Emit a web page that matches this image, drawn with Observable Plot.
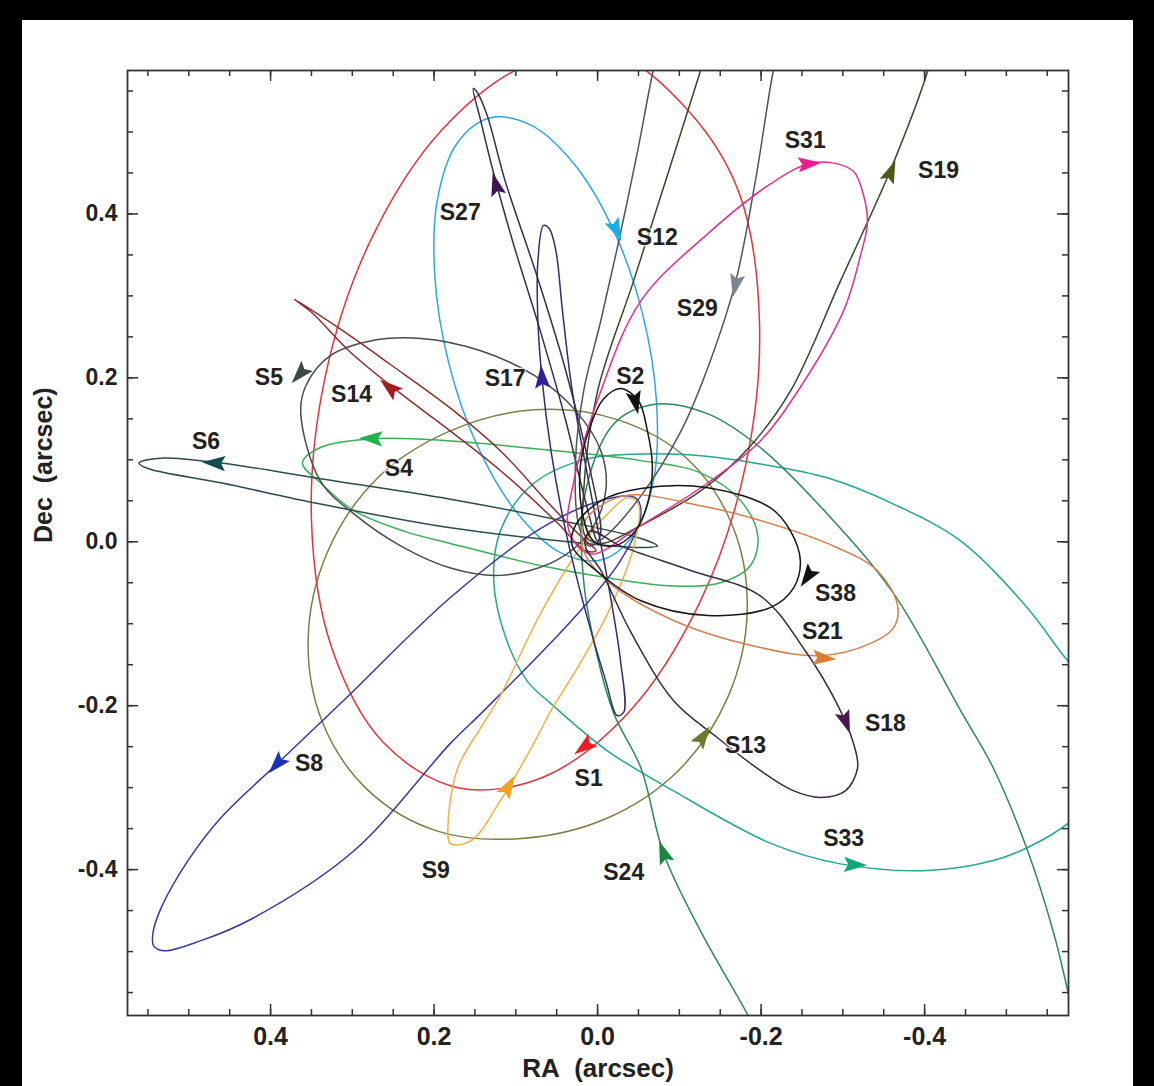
<!DOCTYPE html>
<html><head><meta charset="utf-8">
<script src="https://cdn.jsdelivr.net/npm/d3@7"></script>
<script src="https://cdn.jsdelivr.net/npm/@observablehq/plot@0.6"></script>
<style>
html,body{margin:0;padding:0;background:#000;width:1154px;height:1086px;overflow:hidden;}
#panel{position:absolute;left:22px;top:20px;width:1111px;height:1066px;background:#fff;}
#chart{position:absolute;left:0;top:0;}
</style></head><body>
<div id="panel"></div><div id="chart"></div>
<script>
// ---- orbit tracks [RA, Dec] in arcsec ----
const S1 = [[-0.020,0.595],[-0.111,0.526],[-0.173,0.426],[-0.198,0.269],[-0.181,0.093],[-0.125,-0.074],[-0.039,-0.207],[0.066,-0.287],[0.171,-0.300],[0.262,-0.245],[0.325,-0.130],[0.350,0.027],[0.333,0.202],[0.277,0.369],[0.190,0.503],[0.086,0.582]];
const S2 = [[-0.028,0.187],[-0.050,0.172],[-0.061,0.135],[-0.067,0.093],[-0.062,0.050],[-0.046,0.013],[-0.020,-0.005],[0.005,0.001],[0.018,0.032],[0.021,0.093],[0.009,0.141],[-0.007,0.174]];
const S4 = [[0.361,0.096],[0.339,0.115],[0.269,0.126],[0.180,0.123],[0.070,0.113],[-0.053,0.099],[-0.126,0.084],[-0.175,0.050],[-0.196,0.007],[-0.187,-0.029],[-0.150,-0.050],[-0.093,-0.054],[-0.012,-0.044],[0.070,-0.029],[0.180,-0.002],[0.237,0.013],[0.298,0.038],[0.339,0.072]];
const S5 = [[0.363,0.156],[0.357,0.190],[0.327,0.227],[0.278,0.245],[0.216,0.248],[0.143,0.233],[0.076,0.202],[0.027,0.160],[-0.004,0.111],[-0.010,0.062],[0.009,0.013],[0.051,-0.023],[0.119,-0.041],[0.180,-0.032],[0.241,-0.005],[0.298,0.034],[0.339,0.074]];
const S6 = [[0.561,0.096],[0.535,0.102],[0.461,0.096],[0.339,0.077],[0.180,0.052],[0.045,0.026],[-0.053,0.004],[-0.073,-0.005],[-0.053,-0.007],[0.045,0.001],[0.180,0.017],[0.339,0.046],[0.461,0.072],[0.549,0.089]];
const S8 = [[0.544,-0.478],[0.534,-0.447],[0.501,-0.389],[0.461,-0.337],[0.391,-0.270],[0.311,-0.194],[0.180,-0.068],[0.070,0.016],[-0.004,0.050],[-0.046,0.054],[-0.053,0.032],[-0.028,-0.023],[0.029,-0.093],[0.139,-0.206],[0.180,-0.246],[0.298,-0.377],[0.421,-0.459],[0.486,-0.487],[0.531,-0.499],[0.543,-0.493]];
const S9 = [[0.180,-0.368],[0.183,-0.346],[0.171,-0.276],[0.143,-0.227],[0.119,-0.188],[0.070,-0.088],[0.021,-0.007],[-0.012,0.034],[-0.037,0.054],[-0.050,0.046],[-0.044,-0.007],[-0.012,-0.088],[0.029,-0.161],[0.057,-0.206],[0.078,-0.246],[0.119,-0.316],[0.155,-0.365]];
const S12 = [[0.132,0.517],[0.081,0.508],[0.028,0.460],[-0.020,0.379],[-0.055,0.278],[-0.072,0.172],[-0.069,0.078],[-0.045,0.010],[-0.005,-0.022],[0.046,-0.013],[0.099,0.036],[0.147,0.117],[0.182,0.218],[0.199,0.323],[0.196,0.417],[0.172,0.486]];
const S13 = [[-0.110,0.101],[-0.166,0.017],[-0.183,-0.085],[-0.160,-0.188],[-0.099,-0.279],[-0.010,-0.338],[0.093,-0.362],[0.196,-0.353],[0.281,-0.303],[0.337,-0.219],[0.354,-0.118],[0.331,-0.014],[0.270,0.077],[0.181,0.135],[0.078,0.161],[-0.024,0.149]];
const S14 = [[0.371,0.296],[0.314,0.259],[0.253,0.216],[0.180,0.163],[0.119,0.111],[0.057,0.044],[0.021,0.007],[0.002,-0.011],[0.015,-0.011],[0.049,0.023],[0.119,0.087],[0.180,0.135],[0.241,0.181],[0.302,0.231],[0.350,0.280]];
const S17 = [[0.066,0.386],[0.073,0.343],[0.073,0.270],[0.068,0.199],[0.057,0.111],[0.039,0.013],[0.015,-0.084],[-0.010,-0.170],[-0.024,-0.212],[-0.032,-0.208],[-0.028,-0.145],[-0.010,-0.035],[0.011,0.074],[0.031,0.184],[0.043,0.282],[0.051,0.355],[0.059,0.382]];
const S18 = [[0.009,0.013],[-0.028,-0.005],[-0.114,-0.035],[-0.199,-0.066],[-0.254,-0.133],[-0.294,-0.200],[-0.313,-0.246],[-0.318,-0.276],[-0.303,-0.304],[-0.273,-0.312],[-0.240,-0.304],[-0.199,-0.279],[-0.144,-0.237],[-0.093,-0.194],[-0.040,-0.109],[-0.004,-0.035],[0.015,-0.005]];
const S19 = [[-0.413,0.611],[-0.404,0.575],[-0.358,0.453],[-0.297,0.318],[-0.236,0.184],[-0.187,0.117],[-0.126,0.062],[-0.053,0.020],[-0.004,-0.002],[0.015,0.007],[0.017,0.062],[0.000,0.184],[-0.044,0.318],[-0.086,0.449],[-0.126,0.575],[-0.138,0.611]];
const S21 = [[0.015,0.026],[-0.032,0.056],[-0.126,0.044],[-0.199,0.026],[-0.281,-0.002],[-0.342,-0.035],[-0.367,-0.078],[-0.362,-0.105],[-0.334,-0.124],[-0.273,-0.139],[-0.199,-0.129],[-0.093,-0.096],[-0.012,-0.048],[0.017,-0.011]];
const S24 = [[-0.199,-0.609],[-0.183,-0.576],[-0.126,-0.475],[-0.081,-0.381],[-0.053,-0.276],[-0.020,-0.210],[0.002,-0.133],[0.017,-0.048],[0.017,0.050],[-0.020,0.144],[-0.073,0.168],[-0.135,0.156],[-0.199,0.115],[-0.281,0.034],[-0.362,-0.063],[-0.444,-0.206],[-0.484,-0.276],[-0.526,-0.377],[-0.558,-0.478],[-0.575,-0.548],[-0.585,-0.597]];
const S27 = [[0.152,0.553],[0.143,0.514],[0.128,0.453],[0.104,0.367],[0.070,0.257],[0.039,0.148],[0.015,0.050],[0.000,0.001],[-0.004,0.013],[0.009,0.087],[0.039,0.209],[0.076,0.330],[0.113,0.440],[0.135,0.520],[0.147,0.548]];
const S29 = [[-0.224,0.611],[-0.215,0.575],[-0.193,0.440],[-0.169,0.318],[-0.138,0.221],[-0.102,0.135],[-0.053,0.056],[-0.010,0.007],[0.011,-0.005],[0.023,0.020],[0.027,0.099],[0.017,0.184],[-0.004,0.270],[-0.026,0.367],[-0.049,0.477],[-0.068,0.575],[-0.077,0.611]];
const S31 = [[0.029,0.074],[-0.004,0.184],[-0.053,0.294],[-0.135,0.376],[-0.212,0.437],[-0.257,0.461],[-0.289,0.462],[-0.313,0.452],[-0.325,0.424],[-0.330,0.389],[-0.322,0.351],[-0.301,0.282],[-0.245,0.184],[-0.199,0.123],[-0.135,0.072],[-0.053,0.020],[0.009,-0.015],[0.035,0.013]];
const S33 = [[-0.575,-0.145],[-0.526,-0.081],[-0.444,0.001],[-0.362,0.046],[-0.281,0.078],[-0.199,0.095],[-0.126,0.105],[-0.053,0.107],[0.021,0.099],[0.082,0.068],[0.119,0.013],[0.127,-0.048],[0.113,-0.115],[0.086,-0.170],[0.061,-0.194],[-0.012,-0.255],[-0.093,-0.304],[-0.212,-0.368],[-0.297,-0.393],[-0.404,-0.401],[-0.484,-0.389],[-0.526,-0.373],[-0.575,-0.344],[-0.615,-0.304],[-0.630,-0.243],[-0.613,-0.182]];
const S38 = [[0.027,0.020],[-0.004,0.050],[-0.053,0.065],[-0.135,0.066],[-0.212,0.041],[-0.236,0.013],[-0.248,-0.023],[-0.240,-0.056],[-0.212,-0.080],[-0.135,-0.090],[-0.053,-0.072],[0.002,-0.035],[0.031,-0.005]];

const orbits = [
  {name:"S13", pts:S13, closed:true}, {name:"S1", pts:S1, closed:true}, {name:"S12", pts:S12, closed:true},
  {name:"S33", pts:S33, closed:true}, {name:"S24", pts:S24, closed:false}, {name:"S4", pts:S4, closed:true},
  {name:"S5", pts:S5, closed:true}, {name:"S6", pts:S6, closed:true}, {name:"S8", pts:S8, closed:true},
  {name:"S9", pts:S9, closed:true}, {name:"S14", pts:S14, closed:true}, {name:"S17", pts:S17, closed:true},
  {name:"S27", pts:S27, closed:true}, {name:"S29", pts:S29, closed:false}, {name:"S19", pts:S19, closed:false},
  {name:"S31", pts:S31, closed:true}, {name:"S21", pts:S21, closed:true}, {name:"S18", pts:S18, closed:true},
  {name:"S38", pts:S38, closed:true}, {name:"S2", pts:S2, closed:true}
];

// direction-of-motion markers: position and screen heading (deg, clockwise from up)
const arrows = [
  {name:"S1", ra:0.015, dec:-0.249, angle:233}, {name:"S2", ra:-0.046, dec:0.172, angle:168},
  {name:"S4", ra:0.275, dec:0.126, angle:272}, {name:"S5", ra:0.363, dec:0.206, angle:222},
  {name:"S6", ra:0.467, dec:0.096, angle:273}, {name:"S8", ra:0.391, dec:-0.270, angle:222},
  {name:"S9", ra:0.110, dec:-0.300, angle:30}, {name:"S12", ra:-0.022, dec:0.382, angle:155},
  {name:"S13", ra:-0.128, dec:-0.239, angle:34}, {name:"S14", ra:0.253, dec:0.187, angle:309},
  {name:"S17", ra:0.068, dec:0.199, angle:356}, {name:"S18", ra:-0.303, dec:-0.218, angle:160},
  {name:"S19", ra:-0.358, dec:0.450, angle:22}, {name:"S21", ra:-0.275, dec:-0.142, angle:95},
  {name:"S24", ra:-0.081, dec:-0.381, angle:340}, {name:"S27", ra:0.124, dec:0.434, angle:345},
  {name:"S29", ra:-0.169, dec:0.315, angle:192}, {name:"S31", ra:-0.257, dec:0.461, angle:85},
  {name:"S33", ra:-0.313, dec:-0.394, angle:92}, {name:"S38", ra:-0.258, dec:-0.041, angle:215}
];

// star name labels
const labels = [
  {name:"S31", ra:-0.254, dec:0.489}, {name:"S19", ra:-0.417, dec:0.453}, {name:"S27", ra:0.168, dec:0.401},
  {name:"S12", ra:-0.073, dec:0.371}, {name:"S29", ra:-0.122, dec:0.284}, {name:"S5", ra:0.402, dec:0.200},
  {name:"S17", ra:0.113, dec:0.199}, {name:"S2", ra:-0.040, dec:0.201}, {name:"S14", ra:0.301, dec:0.179},
  {name:"S6", ra:0.479, dec:0.122}, {name:"S4", ra:0.243, dec:0.089}, {name:"S38", ra:-0.291, dec:-0.063},
  {name:"S21", ra:-0.275, dec:-0.110}, {name:"S18", ra:-0.352, dec:-0.222}, {name:"S13", ra:-0.181, dec:-0.249},
  {name:"S8", ra:0.353, dec:-0.271}, {name:"S1", ra:0.011, dec:-0.289}, {name:"S33", ra:-0.301, dec:-0.362},
  {name:"S9", ra:0.198, dec:-0.401}, {name:"S24", ra:-0.032, dec:-0.404}
];

const xTickLabels = [0.4, 0.2, 0.0, -0.2, -0.4];
const yTickLabels = [0.4, 0.2, 0.0, -0.2, -0.4];

// ---- styles ----
const lineColor = {S1:"#e2343c", S2:"#151515", S4:"#3aae58", S5:"#4a4a4a", S6:"#2c4c4c", S8:"#3838a0", S9:"#f0b048",
  S12:"#2aa9d9", S13:"#7e7e44", S14:"#8e2e2e", S17:"#2e2e70", S18:"#3a2a40", S19:"#3a4428", S21:"#d2804e",
  S24:"#2a8a58", S27:"#32304c", S29:"#505458", S31:"#e2308c", S33:"#22a88e", S38:"#151515"};
const arrowColor = {S1:"#ee1c24", S2:"#111111", S4:"#1fb34a", S5:"#3d4747", S6:"#0d4d50", S8:"#1d2fb5", S9:"#f5a01a",
  S12:"#18aee8", S13:"#6b7b2b", S14:"#a61c1c", S17:"#34209a", S18:"#4a1850", S19:"#4a5a18", S21:"#e07a30",
  S24:"#138a40", S27:"#3d1450", S29:"#7d868c", S31:"#ee1a90", S33:"#12a878", S38:"#111111"};

const W = 1154, H = 1086, mL = 127, mR = 86, mT = 70, mB = 71;
const xDom = [0.575, -0.576], yDom = [-0.578, 0.575];
const dxp = (xDom[0] - xDom[1]) / (W - mL - mR);
const dyp = (yDom[1] - yDom[0]) / (H - mT - mB);

const minor = d3.range(-11, 12).map(i => +(i * 0.05).toFixed(2));
const major = xTickLabels;
const minLen = 6, majLen = 11;

const arrowSymbol = {draw(ctx, size) {
  const s = Math.sqrt(size / Math.PI);
  ctx.moveTo(0, -1.45 * s); ctx.lineTo(0.8 * s, 1.0 * s); ctx.lineTo(0, 0.55 * s); ctx.lineTo(-0.8 * s, 1.0 * s); ctx.closePath();
}};

const marks = [];
for (const o of orbits) {
  marks.push(Plot.line(o.pts, {x: d => d[0], y: d => d[1], stroke: lineColor[o.name], strokeWidth: 1.5,
    curve: o.closed ? "catmull-rom-closed" : "catmull-rom", clip: true}));
}
for (const a of arrows) {
  marks.push(Plot.dot([a], {x: "ra", y: "dec", r: 9.5, symbol: arrowSymbol, rotate: "angle", fill: arrowColor[a.name], stroke: "none"}));
}
marks.push(Plot.text(labels, {x: "ra", y: "dec", text: "name", fontSize: 23, fontWeight: "bold",
  fontFamily: "'Liberation Sans', Arial, sans-serif", fill: "#222", stroke: "white", strokeWidth: 2.5, strokeOpacity: 0.8}));

// inward ticks on all four sides
const tk = (vals, len) => [
  Plot.ruleX(vals, {x: d => d, y1: yDom[0], y2: yDom[0] + len * dyp, stroke: "#333", strokeWidth: 1.5}),
  Plot.ruleX(vals, {x: d => d, y1: yDom[1], y2: yDom[1] - len * dyp, stroke: "#333", strokeWidth: 1.5}),
  Plot.ruleY(vals, {y: d => d, x1: xDom[0], x2: xDom[0] - len * dxp, stroke: "#333", strokeWidth: 1.5}),
  Plot.ruleY(vals, {y: d => d, x1: xDom[1], x2: xDom[1] + len * dxp, stroke: "#333", strokeWidth: 1.5})
];
marks.push(...tk(minor, minLen), ...tk(major, majLen));
marks.push(Plot.frame({stroke: "#333", strokeWidth: 1.8}));

marks.push(Plot.axisX(xTickLabels, {anchor: "bottom", tickSize: 0, tickPadding: 12, label: null,
  tickFormat: d => d.toFixed(1), fontSize: 25, fontWeight: "bold", fill: "#222",
  fontFamily: "'Liberation Sans Narrow', 'Liberation Sans', Arial, sans-serif"}));
marks.push(Plot.axisY(yTickLabels, {anchor: "left", tickSize: 0, tickPadding: 10, label: null,
  tickFormat: d => d.toFixed(1), fontSize: 23, fontWeight: "bold", fill: "#222",
  fontFamily: "'Liberation Sans', Arial, sans-serif"}));
marks.push(Plot.text(["RA\u00a0 (arcsec)"], {frameAnchor: "bottom", dy: 61, fontSize: 26, fontWeight: "bold", fill: "#222",
  fontFamily: "'Liberation Sans Narrow', 'Liberation Sans', Arial, sans-serif"}));
marks.push(Plot.text(["Dec\u00a0 (arcsec)"], {frameAnchor: "left", dx: -84, rotate: -90, fontSize: 25, fontWeight: "bold", fill: "#222",
  fontFamily: "'Liberation Sans Narrow', 'Liberation Sans', Arial, sans-serif"}));

const chart = Plot.plot({
  width: W, height: H, marginLeft: mL, marginRight: mR, marginTop: mT, marginBottom: mB,
  style: {background: "transparent", overflow: "visible"},
  x: {domain: xDom}, y: {domain: yDom},
  marks
});
document.getElementById("chart").appendChild(chart);
</script>
</body></html>
